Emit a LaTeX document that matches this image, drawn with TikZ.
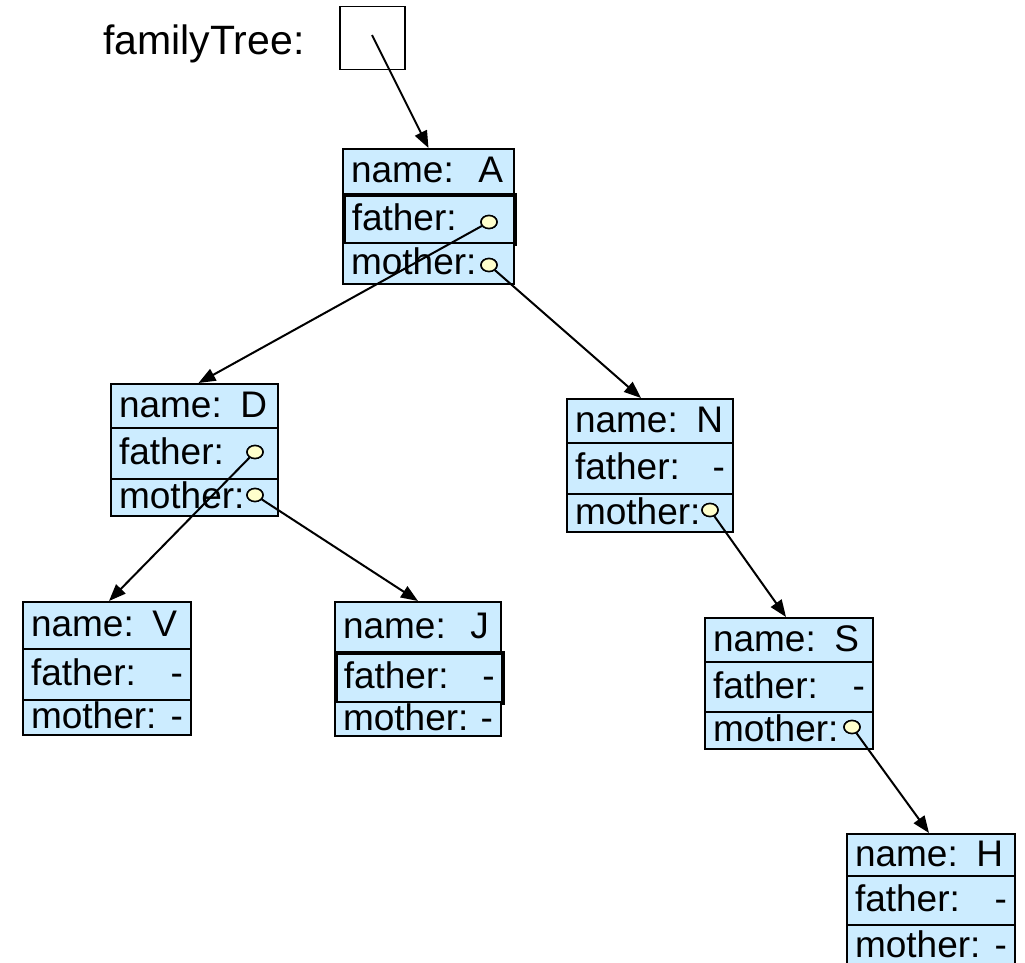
\documentclass[tikz,border=0pt]{standalone}
\usepackage{fontspec}
\setmainfont{Liberation Sans}
\usetikzlibrary{arrows.meta,shapes.geometric,calc}
\definecolor{boxfill}{HTML}{CCECFF}
\definecolor{knob}{HTML}{FFFFCC}
\begin{document}
\begin{tikzpicture}[x=1pt,y=-1pt,
  rowbox/.style={draw=black, line width=2pt, fill=boxfill, anchor=north west,
    inner xsep=8pt, inner ysep=0pt, align=left, text height=28pt, text depth=6pt,
    font=\fontsize{37}{42}\selectfont},
  thickrow/.style={line width=3.5pt},
  knobdot/.style={ellipse, draw=black, line width=1.5pt, fill=knob,
    minimum width=16pt, minimum height=13pt, inner sep=0pt},
  ptr/.style={draw=black, line width=2pt, -{Triangle[length=17pt,width=13pt]}},
  lbl/.style={font=\fontsize{41}{46}\selectfont, inner sep=0pt}]
\useasboundingbox (0,0) rectangle (1025,963);

% variable label and box
\node[lbl, anchor=base west] (ftlabel) at (103,55) {familyTree:};
\node[draw=black, line width=1.5pt, minimum width=65pt, minimum height=63pt,
  anchor=north west, inner sep=0pt] (ft) at (339,6) {};
\coordinate (ftstart) at (372,35);

% record A
\node[rowbox, minimum width=171pt, minimum height=45pt, text width=155pt] (An) at (342,148) {name:\ \ A};
\node[rowbox, thickrow, minimum width=171pt, minimum height=49pt, text width=155pt] (Af) at (342,193) {father:};
\node[rowbox, minimum width=171pt, minimum height=41pt, text width=155pt] (Am) at (342,242) {mother:};
\node[knobdot] (kAf) at (489,222) {};
\node[knobdot] (kAm) at (489,265) {};

% record D
\node[rowbox, minimum width=167pt, minimum height=44pt, text width=151pt] (Dn) at (110,383) {name: D};
\node[rowbox, minimum width=167pt, minimum height=51pt, text width=151pt] (Df) at (110,427) {father:};
\node[rowbox, minimum width=167pt, minimum height=37pt, text width=151pt] (Dm) at (110,478) {mother:};
\node[knobdot] (kDf) at (255,452) {};
\node[knobdot] (kDm) at (255,495) {};

% record N
\node[rowbox, minimum width=166pt, minimum height=44pt, text width=150pt] (Nn) at (566,398) {name: N};
\node[rowbox, minimum width=166pt, minimum height=51pt, text width=150pt] (Nf) at (566,442) {father:\hfill-};
\node[rowbox, minimum width=166pt, minimum height=38pt, text width=150pt] (Nm) at (566,493) {mother:};
\node[knobdot] (kNm) at (710,510) {};

% record V
\node[rowbox, minimum width=168pt, minimum height=47pt, text width=152pt] (Vn) at (22,601) {name: V};
\node[rowbox, minimum width=168pt, minimum height=51pt, text width=152pt] (Vf) at (22,648) {father:\hfill-};
\node[rowbox, minimum width=168pt, minimum height=35pt, text width=152pt] (Vm) at (22,699) {mother:\hfill-};

% record J
\node[rowbox, minimum width=166pt, minimum height=50pt, text width=150pt] (Jn) at (334,601) {name:\ \ J};
\node[rowbox, thickrow, minimum width=167pt, minimum height=50pt, text width=151pt] (Jf) at (334,651) {father:\hfill-};
\node[rowbox, minimum width=166pt, minimum height=34pt, text width=150pt] (Jm) at (334,701) {mother:\hfill-};

% record S
\node[rowbox, minimum width=168pt, minimum height=44pt, text width=152pt] (Sn) at (704,617) {name: S};
\node[rowbox, minimum width=168pt, minimum height=50pt, text width=152pt] (Sf) at (704,661) {father:\hfill-};
\node[rowbox, minimum width=168pt, minimum height=37pt, text width=152pt] (Sm) at (704,711) {mother:};
\node[knobdot] (kSm) at (852,727) {};

% record H (cut off by the lower edge)
\node[rowbox, minimum width=168pt, minimum height=42pt, text width=152pt] (Hn) at (846,833) {name: H};
\node[rowbox, minimum width=168pt, minimum height=49pt, text width=152pt] (Hf) at (846,875) {father:\hfill-};
\node[rowbox, minimum width=168pt, minimum height=42pt, text width=152pt] (Hm) at (846,924) {mother:\hfill-};

% pointers
\draw[ptr] (ftstart) -- (An.north);
\draw[ptr] (kAf) -- ($(Dn.north)+(4,0)$);
\draw[ptr] (kAm) -- ($(Nn.north)+(-9,0)$);
\draw[ptr] (kDf) -- ($(Vn.north)+(2,0)$);
\draw[ptr] (kDm) -- (Jn.north);
\draw[ptr] (kNm) -- ($(Sn.north)+(-3,0)$);
\draw[ptr] (kSm) -- ($(Hn.north)+(-2,0)$);

% knobs on top
\node[knobdot] at (kAf) {};
\node[knobdot] at (kAm) {};
\node[knobdot] at (kDf) {};
\node[knobdot] at (kDm) {};
\node[knobdot] at (kNm) {};
\node[knobdot] at (kSm) {};
\end{tikzpicture}
\end{document}
